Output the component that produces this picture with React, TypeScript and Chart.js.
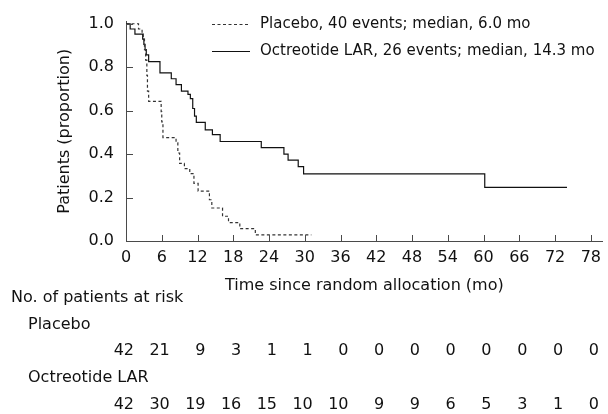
import React, { useEffect, useRef } from "react";
import { Chart, registerables } from "chart.js";

Chart.register(...registerables);

// ---------- data ----------
const xTicks = [0, 6, 12, 18, 24, 30, 36, 42, 48, 54, 60, 66, 72, 78];
const yTicks = [0, 0.2, 0.4, 0.6, 0.8, 1.0];

const placeboTimes = [0, 2.1, 2.7, 2.9, 3.1, 3.3, 3.5, 3.6, 3.8, 5.9, 6.0, 6.2, 8.4, 8.7, 9.0, 9.8, 10.7, 11.4, 12.1, 14.0, 14.4, 16.2, 17.2, 19.1, 21.7, 31.1];
const placeboSurv = [1.0, 0.976, 0.952, 0.929, 0.881, 0.833, 0.762, 0.69, 0.643, 0.595, 0.548, 0.476, 0.452, 0.405, 0.357, 0.333, 0.31, 0.265, 0.23, 0.19, 0.152, 0.114, 0.085, 0.057, 0.028, 0.028];

const octTimes = [0, 0.7, 1.5, 2.8, 3.0, 3.2, 3.4, 3.8, 5.7, 7.6, 8.4, 9.3, 10.4, 10.8, 11.2, 11.5, 11.8, 13.3, 14.5, 15.8, 22.7, 26.5, 27.2, 28.9, 29.8, 60.2, 74.0];
const octSurv = [1.0, 0.976, 0.952, 0.929, 0.905, 0.881, 0.857, 0.826, 0.774, 0.747, 0.72, 0.69, 0.675, 0.655, 0.61, 0.575, 0.546, 0.512, 0.49, 0.458, 0.43, 0.4, 0.372, 0.342, 0.309, 0.247, 0.247];

const seriesLabels = [
  "Placebo, 40 events; median, 6.0 mo",
  "Octreotide LAR, 26 events; median, 14.3 mo",
];
const riskTitle = "No. of patients at risk";
const riskGroups = ["Placebo", "Octreotide LAR"];
const placeboRisk = [42, 21, 9, 3, 1, 1, 0, 0, 0, 0, 0, 0, 0, 0];
const octRisk = [42, 30, 19, 16, 15, 10, 10, 9, 9, 6, 5, 3, 1, 0];
const xTitle = "Time since random allocation (mo)";
const yTitle = "Patients (proportion)";

// ---------- styles ----------
const FONT = "'DejaVu Sans', Verdana, sans-serif";
const AXIS = "#4a4a4a";
const TEXT = "#111";
const PLACEBO_COLOR = "#333";
const OCT_COLOR = "#111";
const PLACEBO_DASH = [3, 2.5];

const overlay = {
  id: "overlay",
  afterDraw(chart: any) {
    const { ctx, chartArea } = chart;
    const x = chart.scales.x;
    const y = chart.scales.y;
    ctx.save();

    // inward tick marks
    ctx.strokeStyle = AXIS;
    ctx.lineWidth = 1;
    ctx.setLineDash([]);
    ctx.beginPath();
    xTicks.forEach((v) => {
      const px = Math.round(x.getPixelForValue(v)) + 0.5;
      ctx.moveTo(px, chartArea.bottom);
      ctx.lineTo(px, chartArea.bottom - 6);
    });
    yTicks.forEach((v) => {
      const py = Math.round(y.getPixelForValue(v)) + 0.5;
      ctx.moveTo(chartArea.left, py);
      ctx.lineTo(chartArea.left + 7, py);
    });
    ctx.stroke();

    // legend
    const rows = [
      { y: 24, color: PLACEBO_COLOR, dash: PLACEBO_DASH, label: chart.data.datasets[0].label },
      { y: 51, color: OCT_COLOR, dash: [], label: chart.data.datasets[1].label },
    ];
    ctx.font = `15px ${FONT}`;
    ctx.textBaseline = "middle";
    ctx.textAlign = "left";
    rows.forEach((r) => {
      ctx.beginPath();
      ctx.strokeStyle = r.color;
      ctx.lineWidth = 1.2;
      ctx.setLineDash(r.dash);
      ctx.moveTo(212, r.y + 0.5);
      ctx.lineTo(250, r.y + 0.5);
      ctx.stroke();
      ctx.fillStyle = TEXT;
      ctx.fillText(r.label, 260, r.y);
    });
    ctx.setLineDash([]);

    // risk table
    ctx.font = `16px ${FONT}`;
    ctx.fillStyle = TEXT;
    ctx.textAlign = "left";
    ctx.fillText(riskTitle, 11, 298);
    ctx.fillText(riskGroups[0], 28, 325);
    ctx.fillText(riskGroups[1], 28, 378);
    ctx.textAlign = "right";
    xTicks.forEach((v, i) => {
      const px = x.getPixelForValue(v) + 8;
      ctx.fillText(String(placeboRisk[i]), px, 351);
      ctx.fillText(String(octRisk[i]), px, 405);
    });
    ctx.restore();
  },
};

export default function App() {
  const ref = useRef<HTMLCanvasElement | null>(null);

  useEffect(() => {
    document.body.style.margin = "0";
    const canvas = ref.current;
    if (!canvas) return;
    const chart = new Chart(canvas, {
      type: "line",
      data: {
        datasets: [
          {
            label: seriesLabels[0],
            data: placeboTimes.map((t, i) => ({ x: t, y: placeboSurv[i] })),
            borderColor: PLACEBO_COLOR,
            borderWidth: 1.2,
            borderDash: PLACEBO_DASH,
            stepped: true,
            pointRadius: 0,
            fill: false,
          },
          {
            label: seriesLabels[1],
            data: octTimes.map((t, i) => ({ x: t, y: octSurv[i] })),
            borderColor: OCT_COLOR,
            borderWidth: 1.2,
            stepped: true,
            pointRadius: 0,
            fill: false,
          },
        ],
      },
      options: {
        animation: false,
        responsive: false,
        devicePixelRatio: 1,
        layout: { padding: { left: 50, right: 0, top: 21, bottom: 114 } },
        plugins: {
          legend: { display: false },
          tooltip: { enabled: false },
        },
        scales: {
          x: {
            type: "linear",
            min: 0,
            max: 80,
            afterBuildTicks: (s: any) => {
              s.ticks = xTicks.map((v) => ({ value: v }));
            },
            afterFit: (s: any) => {
              s.height = 59;
            },
            border: { display: true, color: AXIS, width: 1 },
            grid: { display: true, drawOnChartArea: false, drawTicks: false },
            ticks: {
              padding: 7,
              color: TEXT,
              font: { family: FONT, size: 16 },
              maxRotation: 0,
              autoSkip: false,
            },
            title: {
              display: true,
              text: xTitle,
              color: TEXT,
              font: { family: FONT, size: 16 },
              padding: { top: 0, bottom: 4.4 },
            },
          },
          y: {
            type: "linear",
            min: 0,
            max: 1.01,
            afterBuildTicks: (s: any) => {
              s.ticks = yTicks.map((v) => ({ value: v }));
            },
            afterFit: (s: any) => {
              s.width = 76;
            },
            border: { display: true, color: AXIS, width: 1 },
            grid: { display: true, drawOnChartArea: false, drawTicks: false },
            ticks: {
              padding: 12,
              color: TEXT,
              font: { family: FONT, size: 16 },
              callback: (v: any) => Number(v).toFixed(1),
            },
            title: {
              display: true,
              text: yTitle,
              color: TEXT,
              font: { family: FONT, size: 16 },
              padding: { top: 5.4, bottom: 0 },
            },
          },
        },
      },
      plugins: [overlay],
    });
    return () => chart.destroy();
  }, []);

  return (
    <div style={{ position: "fixed", left: 0, top: 0, width: 608, height: 414 }}>
      <canvas ref={ref} width={608} height={414} style={{ display: "block" }} />
    </div>
  );
}
